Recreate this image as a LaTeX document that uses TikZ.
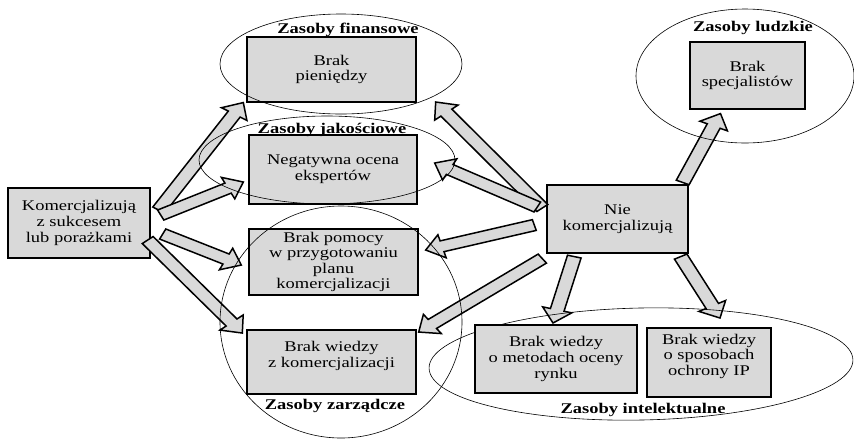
\documentclass[tikz,border=0pt]{standalone}
\usepackage{fontspec}
\setmainfont{Liberation Serif}
\usepackage{xcolor}
\usepackage{tikz}
\usetikzlibrary{calc}
\definecolor{boxgray}{HTML}{D9D9D9}

% wide arrow drawn as a polygon from #1 (tail) to #2 (tip)
\newcommand{\fatarrow}[2]{%
  \coordinate (hb) at ($(#2)!17pt!(#1)$);
  \draw[fatarrow] ($(#1)!7pt!90:(#2)$) -- ($(hb)!7pt!-90:(#1)$) -- ($(hb)!15pt!-90:(#1)$)
    -- (#2) -- ($(hb)!15pt!90:(#1)$) -- ($(hb)!7pt!90:(#1)$) -- ($(#1)!7pt!-90:(#2)$) -- cycle;}

\begin{document}
\begin{tikzpicture}[x=1pt, y=-1.25pt, yscale=0.8, transform shape,
  font=\fontsize{18.5}{19.5}\selectfont,
  box/.style 2 args={draw, fill=boxgray, line width=1.4pt, align=center, inner sep=0pt,
    minimum width=#1pt, minimum height=1.25*#2pt},
  group/.style={line width=0.6pt},
  grouplabel/.style={font=\fontsize{18.5}{19}\selectfont\bfseries, anchor=base, inner sep=0pt},
  fatarrow/.style={draw, fill=boxgray, line width=1.5pt, line join=miter}]
  \useasboundingbox (0,0) rectangle (854,438);

  % Boxes
  \node[box={142}{70}] (kom) at (79,223) {Komercjalizują\\z sukcesem\\lub porażkami};
  \node[box={141}{68}] (nie) at (617.5,219) {Nie\\komercjalizują};
  \node[box={169}{65}] (pien) at (331.5,69.5) {Brak\\pieniędzy};
  \node[box={168}{69}] (neg) at (333,169.5) {Negatywna ocena\\ekspertów};
  \node[box={169}{66}] (pom) at (333.5,262) {Brak pomocy\\w przygotowaniu\\planu\\komercjalizacji};
  \node[box={169}{64}] (wiedza) at (331.5,362) {Brak wiedzy\\z komercjalizacji\\\mbox{}};
  \node[box={115}{67}] (spec) at (747.5,75.5) {Brak\\specjalistów};

  % Arrows from the left box
  \coordinate (a1s) at ($(kom.east)+(8,-13)$);
  \coordinate (a1e) at ($(pien.south west)+(-3,0)$);
  \coordinate (a2s) at ($(kom.east)+(10,-8)$);
  \coordinate (a2e) at ($(neg.west)+(-5,12.5)$);
  \coordinate (a3s) at ($(kom.east)+(12,11)$);
  \coordinate (a3e) at ($(pom.west)+(-7,3)$);
  \coordinate (a4s) at ($(kom.east)+(-3,17)$);
  \coordinate (a4e) at ($(wiedza.west)+(-4,-29)$);
  \fatarrow{a1s}{a1e}
  \fatarrow{a2s}{a2e}
  \fatarrow{a3s}{a3e}
  \fatarrow{a4s}{a4e}

  % Arrows from the right box
  \coordinate (b1s) at ($(nie.west)+(-4,-11)$);
  \coordinate (b1e) at ($(pien.east)+(19,32.5)$);
  \coordinate (b2s) at ($(nie.west)+(-9,-12)$);
  \coordinate (b2e) at ($(neg.east)+(17,-6.5)$);
  \coordinate (b3s) at ($(nie.west)+(-12,6)$);
  \coordinate (b3e) at ($(pom.east)+(7,-12)$);
  \coordinate (b4s) at ($(nie.south west)+(-4,5)$);
  \coordinate (b4e) at ($(wiedza.east)+(2,-30)$);
  \coordinate (b5s) at ($(nie.north east)+(-6,-2)$);
  \coordinate (b5e) at ($(spec.south)+(-27,4)$);
  \coordinate (b6s) at ($(nie.south west)+(28,3)$);
  \coordinate (b6e) at (553,323);
  \coordinate (b7s) at ($(nie.south east)+(-8,3)$);
  \coordinate (b7e) at (720,318);
  \fatarrow{b1s}{b1e}
  \fatarrow{b2s}{b2e}
  \fatarrow{b3s}{b3e}
  \fatarrow{b4s}{b4e}
  \fatarrow{b5s}{b5e}
  \fatarrow{b6s}{b6e}
  \fatarrow{b7s}{b7e}

  % Zasoby intelektualne (behind its boxes)
  \draw[group, rotate around={1.5:(641,364)}] (641,364) ellipse [x radius=212, y radius=56];
  \node[box={162}{68}] (metody) at (556,359) {Brak wiedzy\\o metodach oceny\\rynku};
  \node[box={124}{69}] (ochrona) at (709,362.5) {Brak wiedzy\\o sposobach\\ochrony IP\\\mbox{}};
  \node[grouplabel] (intl) at (643,413) {Zasoby intelektualne};

  % Other groups
  \draw[group] (341,64) ellipse [x radius=121, y radius=50];
  \node[grouplabel] (finl) at (348,33) {Zasoby finansowe};
  \draw[group] (327,160) ellipse [x radius=128, y radius=44];
  \node[grouplabel] (jakl) at (332,133) {Zasoby jakościowe};
  \draw[group] (341,322) ellipse [x radius=121, y radius=116];
  \node[grouplabel] (zarl) at (335,409) {Zasoby zarządcze};
  \draw[group] (745,76) ellipse [x radius=109, y radius=67];
  \node[grouplabel] (ludl) at (753,31) {Zasoby ludzkie};
\end{tikzpicture}
\end{document}
